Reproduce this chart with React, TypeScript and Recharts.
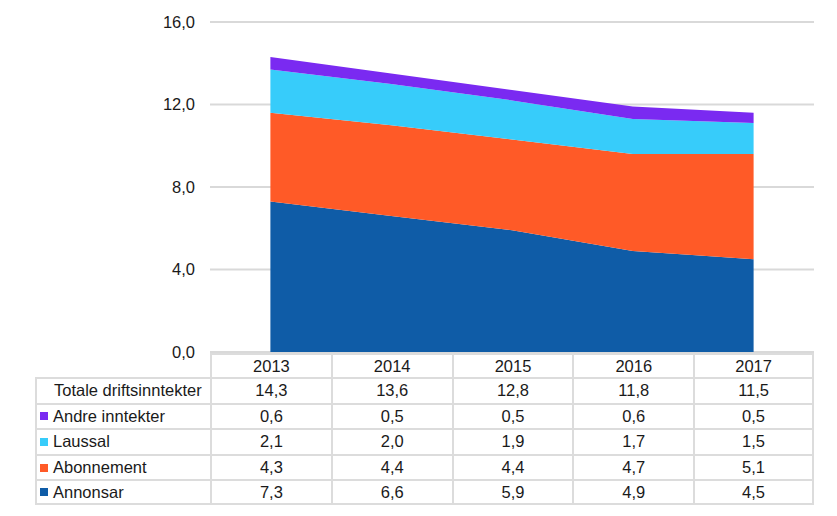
import React from "react";
import { AreaChart, Area, XAxis, YAxis, CartesianGrid } from "recharts";

const years = ["2013", "2014", "2015", "2016", "2017"];
const annonsar = [7.3, 6.6, 5.9, 4.9, 4.5];
const abonnement = [4.3, 4.4, 4.4, 4.7, 5.1];
const laussal = [2.1, 2.0, 1.9, 1.7, 1.5];
const andre = [0.6, 0.5, 0.5, 0.6, 0.5];
const totale = [14.3, 13.6, 12.8, 11.8, 11.5];
const yTicks = [0, 4, 8, 12, 16];

const colors = {
  annonsar: "#0F5CA7",
  abonnement: "#FF5A27",
  laussal: "#37CCFA",
  andre: "#7A2AF1",
};

const data = years.map((y, i) => ({
  year: y,
  Annonsar: annonsar[i],
  Abonnement: abonnement[i],
  Laussal: laussal[i],
  Andre: andre[i],
}));

const fmt = (v: number) => v.toFixed(1).replace(".", ",");

const tableRows = [
  { label: "Totale driftsinntekter", color: null as string | null, values: totale },
  { label: "Andre inntekter", color: colors.andre, values: andre },
  { label: "Laussal", color: colors.laussal, values: laussal },
  { label: "Abonnement", color: colors.abonnement, values: abonnement },
  { label: "Annonsar", color: colors.annonsar, values: annonsar },
];

const FONT = '"Liberation Sans", Arial, sans-serif';
const BORDER = "#dcdcdc";

export default function App() {
  const plotLeft = 210;
  const plotRight = 814;
  const colW = (plotRight - plotLeft) / years.length;
  const headerTop = 353;
  const headerH = 24;
  const rowH = 25.6;
  const labelLeft = 35;

  const cells: React.ReactNode[] = [];
  years.forEach((y, j) => {
    cells.push(
      <div
        key={"h" + j}
        style={{
          position: "absolute",
          left: plotLeft + j * colW,
          top: headerTop,
          width: colW,
          height: headerH,
          boxSizing: "border-box",
          borderTop: `2px solid ${BORDER}`,
          borderLeft: `2px solid ${BORDER}`,
          borderRight: j === years.length - 1 ? `2px solid ${BORDER}` : undefined,
          display: "flex",
          alignItems: "center",
          justifyContent: "center",
        }}
      >
        {y}
      </div>
    );
  });
  tableRows.forEach((r, i) => {
    const top = headerTop + headerH + i * rowH;
    const last = i === tableRows.length - 1;
    cells.push(
      <div
        key={"l" + i}
        style={{
          position: "absolute",
          left: labelLeft,
          top,
          width: plotLeft - labelLeft,
          height: rowH,
          boxSizing: "border-box",
          borderTop: `2px solid ${BORDER}`,
          borderLeft: `2px solid ${BORDER}`,
          borderBottom: last ? `2px solid ${BORDER}` : undefined,
          display: "flex",
          alignItems: "center",
          paddingLeft: r.color ? 3 : 17,
          whiteSpace: "nowrap",
        }}
      >
        {r.color && (
          <span
            style={{
              display: "inline-block",
              width: 8,
              height: 8,
              background: r.color,
              marginRight: 5,
            }}
          />
        )}
        {r.label}
      </div>
    );
    r.values.forEach((v, j) => {
      cells.push(
        <div
          key={"c" + i + "_" + j}
          style={{
            position: "absolute",
            left: plotLeft + j * colW,
            top,
            width: colW,
            height: rowH,
            boxSizing: "border-box",
            borderTop: `2px solid ${BORDER}`,
            borderLeft: `2px solid ${BORDER}`,
            borderRight: j === years.length - 1 ? `2px solid ${BORDER}` : undefined,
            borderBottom: last ? `2px solid ${BORDER}` : undefined,
            display: "flex",
            alignItems: "center",
            justifyContent: "center",
          }}
        >
          {fmt(v)}
        </div>
      );
    });
  });

  return (
    <div
      style={{
        position: "absolute",
        left: 0,
        top: 0,
        width: 837,
        height: 516,
        background: "#fff",
        fontFamily: FONT,
        fontSize: 16.5,
        color: "#1a1a1a",
      }}
    >
      <AreaChart
        width={837}
        height={516}
        data={data}
        margin={{ top: 22, right: 837 - plotRight, left: 0, bottom: 516 - 352 }}
      >
        <CartesianGrid vertical={false} stroke="#d9d9d9" strokeWidth={2} />
        <XAxis
          dataKey="year"
          hide
          padding={{ left: colW / 2, right: colW / 2 }}
        />
        <YAxis
          width={plotLeft}
          domain={[0, 16]}
          ticks={yTicks}
          axisLine={false}
          tickLine={false}
          tickMargin={9}
          tickFormatter={(v: number) => fmt(v)}
          tick={{ fill: "#1a1a1a", fontSize: 16.5, fontFamily: FONT }}
        />
        <Area type="linear" dataKey="Annonsar" stackId="1" stroke="none" fill={colors.annonsar} fillOpacity={1} isAnimationActive={false} />
        <Area type="linear" dataKey="Abonnement" stackId="1" stroke="none" fill={colors.abonnement} fillOpacity={1} isAnimationActive={false} />
        <Area type="linear" dataKey="Laussal" stackId="1" stroke="none" fill={colors.laussal} fillOpacity={1} isAnimationActive={false} />
        <Area type="linear" dataKey="Andre" stackId="1" stroke="none" fill={colors.andre} fillOpacity={1} isAnimationActive={false} />
      </AreaChart>
      {cells}
    </div>
  );
}
